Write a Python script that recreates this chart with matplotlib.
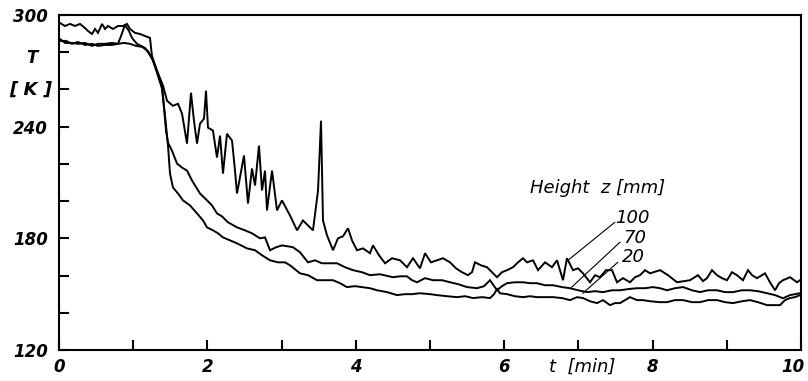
import matplotlib
matplotlib.use("Agg")
import matplotlib.pyplot as plt
import matplotlib.transforms as mtransforms

# ---- data (t in min, T in K) ----
t_100 = [0.013, 0.081, 0.148, 0.216, 0.283, 0.350, 0.391, 0.445, 0.485, 0.526, 0.580, 0.620, 0.660, 0.728,
         0.795, 0.863, 0.916, 0.957, 1.024, 1.092, 1.159, 1.226, 1.253, 1.321, 1.402, 1.456, 1.536, 1.604,
         1.658, 1.725, 1.779, 1.819, 1.860, 1.900, 1.954, 1.981, 2.008, 2.075, 2.129, 2.170, 2.210, 2.264,
         2.332, 2.372, 2.399, 2.493, 2.547, 2.601, 2.642, 2.695, 2.736, 2.776, 2.803, 2.871, 2.938, 3.005,
         3.113, 3.208, 3.288, 3.423, 3.491, 3.531, 3.558, 3.612, 3.693, 3.760, 3.827, 3.895, 3.949, 4.016,
         4.097, 4.191, 4.232, 4.313, 4.394, 4.488, 4.596, 4.690, 4.771, 4.865, 4.933, 5.013, 5.094, 5.175,
         5.270, 5.350, 5.431, 5.512, 5.566, 5.606, 5.687, 5.768, 5.836, 5.903, 5.970, 6.038, 6.119, 6.186,
         6.253, 6.307, 6.388, 6.456, 6.550, 6.644, 6.712, 6.792, 6.846, 6.927, 6.995, 7.062, 7.156, 7.224,
         7.291, 7.372, 7.453, 7.520, 7.601, 7.695, 7.763, 7.830, 7.898, 7.965, 8.100, 8.208, 8.329, 8.423,
         8.504, 8.612, 8.679, 8.733, 8.800, 8.868, 8.935, 9.003, 9.070, 9.137, 9.218, 9.286, 9.340, 9.407,
         9.515, 9.582, 9.650, 9.704, 9.757, 9.852, 9.946, 9.987]
T_100 = [295.7, 294.1, 295.2, 294.1, 295.2, 293.0, 291.4, 289.8, 292.5, 290.4, 295.2, 292.5, 294.1, 292.5,
         294.1, 294.1, 295.2, 292.5, 290.4, 289.8, 288.7, 287.7, 278.0, 270.0, 262.0, 253.9, 251.2, 252.3,
         247.0, 230.9, 258.2, 243.2, 230.9, 241.6, 244.3, 259.3, 239.5, 237.9, 223.4, 235.2, 214.8, 236.2,
         232.5, 216.4, 204.1, 224.5, 198.7, 217.5, 208.4, 229.8, 205.7, 216.4, 195.0, 216.4, 195.0, 200.4,
         192.3, 184.3, 189.6, 184.3, 205.7, 243.2, 189.6, 181.6, 173.6, 180.0, 181.1, 185.4, 178.9, 173.6,
         174.6, 172.0, 176.2, 170.9, 166.6, 169.3, 168.2, 164.5, 169.3, 163.9, 172.0, 167.1, 168.2, 169.3,
         167.1, 163.9, 161.8, 160.2, 161.8, 167.1, 165.5, 164.5, 161.8, 159.1, 161.8, 162.9, 164.5, 167.1,
         169.3, 167.1, 168.2, 162.9, 167.1, 164.5, 168.2, 157.5, 169.3, 162.9, 163.9, 161.2, 156.4, 160.2,
         159.1, 162.9, 162.9, 156.4, 158.6, 156.4, 159.1, 160.2, 162.9, 161.2, 162.9, 160.2, 156.4, 157.0,
         157.5, 160.2, 157.0, 158.6, 162.9, 160.2, 158.6, 157.5, 161.8, 160.2, 157.5, 162.9, 160.2, 158.6,
         161.2, 156.4, 152.1, 155.9, 157.5, 159.1, 156.4, 157.5]

t_70 = [0.013, 0.081, 0.175, 0.256, 0.350, 0.445, 0.526, 0.620, 0.714, 0.795, 0.836, 0.889, 0.943, 0.984,
        1.051, 1.159, 1.253, 1.321, 1.388, 1.415, 1.442, 1.469, 1.523, 1.590, 1.658, 1.725, 1.792, 1.900,
        1.995, 2.062, 2.129, 2.197, 2.278, 2.399, 2.507, 2.601, 2.709, 2.776, 2.844, 2.925, 3.005, 3.086,
        3.154, 3.248, 3.356, 3.450, 3.544, 3.652, 3.747, 3.854, 3.962, 4.084, 4.191, 4.326, 4.501, 4.596,
        4.690, 4.757, 4.825, 4.933, 5.040, 5.162, 5.270, 5.377, 5.499, 5.633, 5.728, 5.809, 5.903, 5.970,
        6.038, 6.146, 6.253, 6.348, 6.442, 6.550, 6.658, 6.779, 6.887, 6.995, 7.116, 7.224, 7.332, 7.453,
        7.561, 7.668, 7.790, 7.898, 8.005, 8.100, 8.194, 8.302, 8.410, 8.531, 8.639, 8.747, 8.868, 8.976,
        9.084, 9.205, 9.313, 9.420, 9.542, 9.650, 9.757, 9.852, 9.987]
T_70 = [287.1, 285.0, 285.0, 284.5, 285.0, 283.4, 284.5, 284.5, 285.0, 284.5, 288.7, 294.6, 291.4, 287.7,
        284.5, 282.3, 277.0, 270.0, 262.0, 250.2, 237.9, 231.4, 227.1, 220.2, 218.0, 216.4, 211.1, 204.1,
        200.4, 197.7, 193.4, 191.8, 188.6, 185.9, 184.3, 182.7, 180.0, 180.5, 173.6, 175.2, 176.2, 175.7,
        175.2, 172.5, 167.1, 168.2, 166.6, 166.6, 166.6, 164.5, 162.9, 161.8, 160.2, 160.7, 159.1, 159.6,
        159.6, 157.5, 156.4, 158.6, 157.5, 157.5, 156.4, 155.4, 153.8, 153.2, 154.3, 157.5, 152.1, 154.3,
        155.9, 156.4, 156.4, 155.9, 155.9, 154.8, 154.8, 153.8, 153.2, 152.1, 151.1, 151.6, 151.1, 152.1,
        152.1, 152.7, 153.2, 153.2, 153.8, 153.2, 152.1, 153.2, 153.8, 152.1, 151.1, 152.1, 152.1, 151.1,
        151.1, 152.1, 152.1, 151.6, 150.5, 149.5, 147.8, 149.5, 150.5]

t_20 = [0.013, 0.094, 0.175, 0.256, 0.350, 0.445, 0.526, 0.620, 0.714, 0.795, 0.876, 0.957, 1.038, 1.119,
        1.199, 1.267, 1.334, 1.388, 1.429, 1.469, 1.496, 1.536, 1.604, 1.671, 1.765, 1.860, 1.941, 1.995,
        2.075, 2.143, 2.210, 2.305, 2.399, 2.534, 2.642, 2.736, 2.844, 2.951, 3.046, 3.113, 3.248, 3.356,
        3.477, 3.585, 3.693, 3.787, 3.881, 3.989, 4.084, 4.191, 4.286, 4.420, 4.555, 4.663, 4.757, 4.865,
        5.000, 5.094, 5.229, 5.364, 5.472, 5.580, 5.701, 5.809, 5.863, 5.903, 5.943, 6.038, 6.146, 6.253,
        6.348, 6.442, 6.550, 6.658, 6.779, 6.887, 6.981, 7.062, 7.156, 7.251, 7.332, 7.426, 7.493, 7.561,
        7.628, 7.695, 7.790, 7.871, 7.965, 8.100, 8.194, 8.302, 8.410, 8.531, 8.639, 8.747, 8.868, 8.976,
        9.084, 9.205, 9.313, 9.420, 9.542, 9.650, 9.717, 9.784, 9.852, 9.919, 9.987]
T_20 = [286.1, 286.1, 284.5, 285.5, 283.9, 284.5, 283.4, 283.9, 283.9, 284.5, 285.0, 284.5, 283.4, 282.9,
        280.7, 275.4, 267.3, 260.4, 245.9, 229.8, 214.8, 207.3, 204.1, 200.4, 197.7, 193.4, 189.6, 185.9,
        184.3, 182.7, 180.5, 178.9, 177.3, 174.6, 173.6, 170.9, 168.2, 167.1, 167.1, 165.5, 161.2, 160.2,
        157.5, 157.5, 157.5, 155.9, 153.8, 154.3, 153.8, 153.2, 152.1, 151.1, 149.5, 150.0, 150.0, 150.5,
        150.0, 149.5, 148.9, 148.4, 148.9, 147.9, 148.4, 147.9, 150.0, 152.7, 150.5, 150.0, 148.9, 148.4,
        148.9, 148.4, 148.4, 148.4, 147.9, 146.8, 148.4, 147.9, 146.2, 145.2, 146.8, 144.1, 145.2, 145.2,
        146.8, 148.4, 146.8, 146.8, 146.2, 145.7, 145.7, 146.8, 146.8, 145.7, 145.7, 146.8, 146.8, 145.7,
        145.2, 146.2, 146.8, 145.7, 144.1, 144.1, 144.1, 146.8, 147.9, 148.4, 149.5]

x_ticks = list(range(0, 11))
x_labels = ["0", "", "2", "", "4", "", "6", "", "8", "", "10"]
y_ticks = list(range(120, 301, 20))
y_labels = ["120", "", "", "180", "", "", "240", "", "", "300"]
heights = ["100", "70", "20"]
legend_title = "Height  z [mm]"
# label anchor (t, T) and leader end (t, T)
label_pos = [(7.49, 190.7), (7.61, 180.0), (7.59, 169.8)]
leader_start = [(7.49, 188.6), (7.56, 177.9), (7.53, 167.1)]
leader_end = [(6.86, 168.2), (6.91, 153.8), (7.06, 150.5)]

fig = plt.figure(figsize=(8.08, 3.81), dpi=100)
ax = fig.add_axes([59 / 808, 1 - 350 / 381, (801 - 59) / 808, (350 - 15) / 381])

for tt, TT in [(t_100, T_100), (t_70, T_70), (t_20, T_20)]:
    ax.plot(tt, TT, color="black", lw=1.4, solid_joinstyle="miter")

ax.set_xlim(0, 10)
ax.set_ylim(120, 300)
ax.set_xticks(x_ticks)
ax.set_xticklabels(x_labels)
ax.set_yticks(y_ticks)
ax.set_yticklabels(y_labels)
for lab in ax.get_xticklabels() + ax.get_yticklabels():
    lab.set_fontstyle("italic")
    lab.set_fontweight("bold")
    lab.set_fontsize(12)
ax.tick_params(direction="in", length=7, width=1.5, pad=6)
ax.tick_params(axis="y", pad=8)
# keep the "10" label inside the picture
last = ax.get_xticklabels()[-1]
last.set_transform(last.get_transform() + mtransforms.ScaledTranslation(-6 / 72, 0, fig.dpi_scale_trans))
for s in ax.spines.values():
    s.set_linewidth(1.5)
    s.set_color("black")

# axis titles
ax.text(-0.036, 280 - 3, "T", transform=ax.get_yaxis_transform(), ha="center", va="center",
        fontsize=12, fontstyle="italic", fontweight="bold")
ax.text(-0.038, 260, "[ K ]", transform=ax.get_yaxis_transform(), ha="center", va="center",
        fontsize=13, fontstyle="italic", fontweight="bold")
ax.text(7.05, -0.05, "t  [min]", transform=ax.get_xaxis_transform(), ha="center", va="center",
        fontsize=13, fontstyle="italic")

# legend-like annotation
ax.text(6.35, 207.3, legend_title, ha="left", va="center", fontsize=13, fontstyle="italic")
for h, (lx, ly), (sx, sy), (ex, ey) in zip(heights, label_pos, leader_start, leader_end):
    ax.text(lx, ly, h, ha="left", va="center", fontsize=13, fontstyle="italic")
    ax.plot([sx, ex], [sy, ey], color="black", lw=0.8)

fig.savefig("out.png", dpi=100)
